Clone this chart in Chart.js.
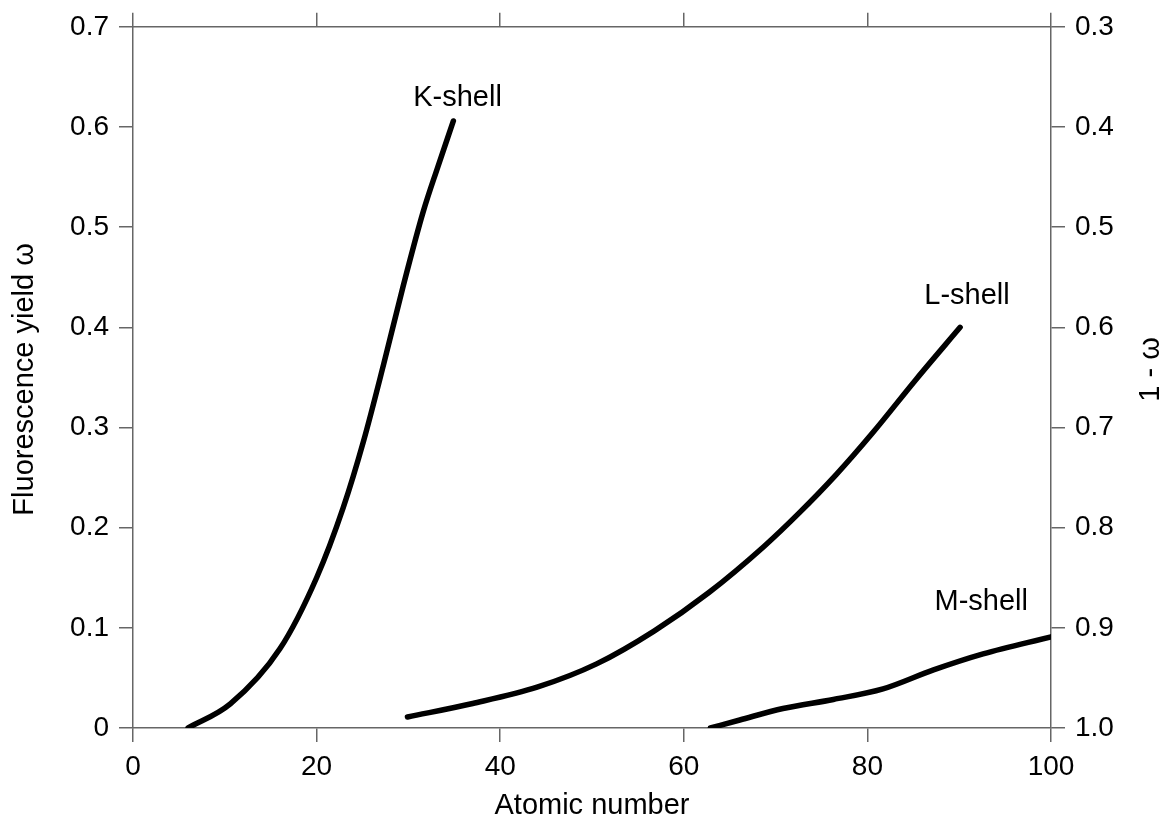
<!DOCTYPE html>
<html>
<head>
<meta charset="utf-8">
<script src="https://cdn.jsdelivr.net/npm/chart.js@4"></script>
<style>
  html, body { margin: 0; padding: 0; background: #fff; }
  #wrap { width: 1166px; height: 825px; }
</style>
</head>
<body>
<div id="wrap"><canvas id="yieldChart"></canvas></div>
<script>
// Fluorescence yield vs atomic number
const kZ = [6, 10.6, 16.0, 20.0, 22.9, 25.1, 27.3, 29.4, 31.6, 33.2, 34.9];
const kW = [0, 0.024, 0.079, 0.150, 0.220, 0.286, 0.363, 0.440, 0.515, 0.560, 0.606];

const lZ = [29.9, 37.0, 44.1, 50.5, 56.8, 62.7, 68.7, 72.6, 76.6, 80.6, 85.3, 90.1];
const lW = [0.011, 0.0245, 0.041, 0.064, 0.097, 0.135, 0.181, 0.215, 0.253, 0.295, 0.348, 0.400];

const mZ = [62.9, 66.1, 70.8, 76.3, 81.7, 87.2, 92.6, 100];
const mW = [0, 0.008, 0.0195, 0.0285, 0.039, 0.058, 0.074, 0.091];

const curveNames = ['K-shell', 'L-shell', 'M-shell'];
// label anchors in data units (centre x, baseline y)
const labelZ = [35.35, 90.85, 92.4];
const labelW = [0.6206, 0.423, 0.118];

const xTicks = [0, 20, 40, 60, 80, 100];
const yTicks = [0, 0.1, 0.2, 0.3, 0.4, 0.5, 0.6, 0.7];

const FONT = '"Liberation Sans", Arial, Helvetica, sans-serif';
const axisGray = '#666';

function pts(xs, ys) {
    return xs.map((x, i) => ({ x: x, y: ys[i] }));
}

function curve(label, xs, ys) {
    return {
        label: label,
        data: pts(xs, ys),
        showLine: true,
        borderColor: '#000',
        borderWidth: 5.5,
        borderCapStyle: 'round',
        borderJoinStyle: 'round',
        pointRadius: 0,
        cubicInterpolationMode: 'monotone',
        fill: false
    };
}

function axisStyle(extra) {
    return Object.assign({
        grid: {
            drawOnChartArea: false,
            drawTicks: true,
            tickLength: 14,
            color: axisGray,
            lineWidth: 1.5
        },
        border: { display: true, color: axisGray, width: 1.5 },
        ticks: {
            color: '#000',
            font: { family: FONT, size: 28 },
            padding: 8
        }
    }, extra);
}

// draws the axis titles and the curve names
const textPlugin = {
    id: 'texts',
    afterDraw(chart) {
        const ctx = chart.ctx;
        const a = chart.chartArea;
        const sx = chart.scales.x, sy = chart.scales.y;
        ctx.save();
        ctx.fillStyle = '#000';
        ctx.font = '29px ' + FONT;
        ctx.textAlign = 'center';
        ctx.textBaseline = 'alphabetic';

        curveNames.forEach((name, i) => {
            ctx.fillText(name, sx.getPixelForValue(labelZ[i]), sy.getPixelForValue(labelW[i]));
        });

        ctx.fillText('Atomic number', (a.left + a.right) / 2, a.bottom + 86);

        ctx.save();
        ctx.translate(33, (a.top + a.bottom) / 2 + 2);
        ctx.rotate(-Math.PI / 2);
        ctx.fillText('Fluorescence yield \u03c9', 0, 0);
        ctx.restore();

        ctx.save();
        ctx.translate(a.right + 108, (a.top + a.bottom) / 2 - 8);
        ctx.rotate(-Math.PI / 2);
        ctx.fillText('1 - \u03c9', 0, 0);
        ctx.restore();

        ctx.restore();
    }
};

const ctx = document.getElementById('yieldChart').getContext('2d');
new Chart(ctx, {
    type: 'scatter',
    data: {
        datasets: [
            curve(curveNames[0], kZ, kW),
            curve(curveNames[1], lZ, lW),
            curve(curveNames[2], mZ, mW)
        ]
    },
    options: {
        responsive: true,
        maintainAspectRatio: false,
        animation: false,
        layout: { padding: 0 },
        plugins: {
            legend: { display: false },
            tooltip: { enabled: false }
        },
        scales: {
            x: axisStyle({
                type: 'linear',
                position: 'bottom',
                min: 0,
                max: 100,
                afterBuildTicks: s => { s.ticks = xTicks.map(v => ({ value: v })); },
                afterFit: s => { s.height = 97; }
            }),
            xTop: axisStyle({
                type: 'linear',
                position: 'top',
                min: 0,
                max: 100,
                afterBuildTicks: s => { s.ticks = xTicks.map(v => ({ value: v })); },
                ticks: { display: false },
                afterFit: s => { s.height = 23; }
            }),
            y: axisStyle({
                type: 'linear',
                position: 'left',
                min: 0,
                max: 0.7,
                afterBuildTicks: s => { s.ticks = yTicks.map(v => ({ value: v })); },
                ticks: {
                    color: '#000',
                    font: { family: FONT, size: 28 },
                    padding: 10,
                    callback: v => v === 0 ? '0' : v.toFixed(1)
                },
                afterFit: s => { s.width = 133; }
            }),
            y2: axisStyle({
                type: 'linear',
                position: 'right',
                reverse: true,
                min: 0.3,
                max: 1.0,
                afterBuildTicks: s => { s.ticks = yTicks.map(v => ({ value: +(1 - v).toFixed(1) })); },
                ticks: {
                    color: '#000',
                    font: { family: FONT, size: 28 },
                    padding: 10,
                    callback: v => v.toFixed(1)
                },
                afterFit: s => { s.width = 115; }
            })
        }
    },
    plugins: [textPlugin]
});
</script>
</body>
</html>
